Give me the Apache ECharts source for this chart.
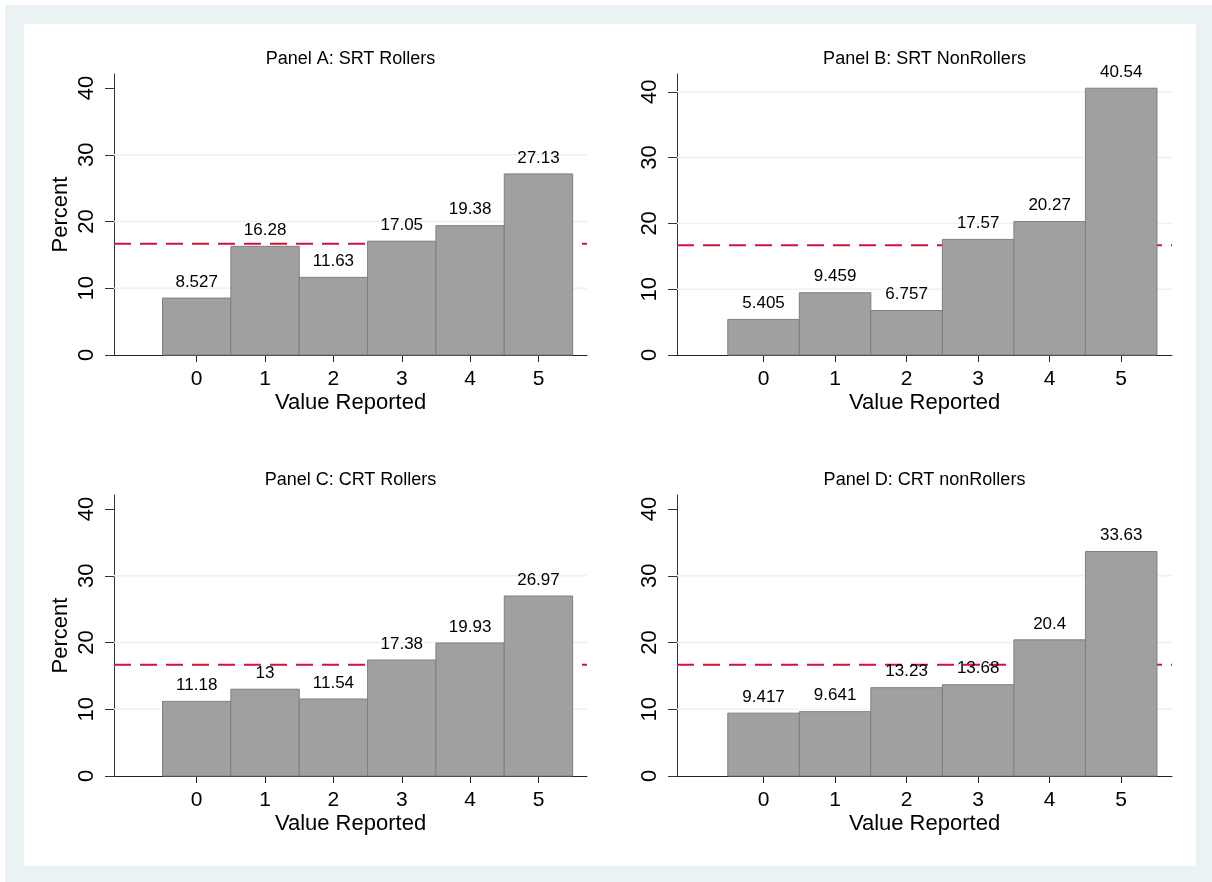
<!DOCTYPE html>
<html>
<head>
<meta charset="utf-8">
<script src="https://cdn.jsdelivr.net/npm/echarts@6/dist/echarts.min.js"></script>
<style>
  html, body { margin: 0; padding: 0; background: #ffffff; }
  #wrap { position: relative; width: 1212px; height: 882px; overflow: hidden; background: #ffffff; }
  #outer { position: absolute; left: 5px; top: 5px; width: 1207px; height: 877px; background: #EAF2F3; }
  #inner { position: absolute; left: 24px; top: 24px; width: 1172px; height: 842px; background: #ffffff; }
  #chart { position: absolute; left: 0; top: 0; width: 1212px; height: 882px; }
</style>
</head>
<body>
<div id="wrap">
  <div id="outer"></div>
  <div id="inner"></div>
  <div id="chart"></div>
</div>
<script>
// ---- data ----
const categories = [0, 1, 2, 3, 4, 5];
const panelTitles = ['Panel A: SRT Rollers', 'Panel B: SRT NonRollers', 'Panel C: CRT Rollers', 'Panel D: CRT nonRollers'];
const valuesA = [8.527, 16.28, 11.63, 17.05, 19.38, 27.13];
const valuesB = [5.405, 9.459, 6.757, 17.57, 20.27, 40.54];
const valuesC = [11.18, 13, 11.54, 17.38, 19.93, 26.97];
const valuesD = [9.417, 9.641, 13.23, 13.68, 20.4, 33.63];
const yTicks = [0, 10, 20, 30, 40];
const gridLinesA = [10, 20, 30];
const gridLinesB = [10, 20, 30, 40];
const gridLinesC = [10, 20, 30];
const gridLinesD = [10, 20, 30];
const referenceLine = [16.67];
const xRange = [-1.21, 5.71];
const yMax = [42.1, 42.7, 42.1, 42.1];

const allValues = [valuesA, valuesB, valuesC, valuesD];
const allGridLines = [gridLinesA, gridLinesB, gridLinesC, gridLinesD];

// ---- layout / style ----
const FONT = '"Liberation Sans", Arial, Helvetica, sans-serif';
const layouts = [
  { left: 114, top: 74, width: 473, height: 281 },
  { left: 677, top: 74, width: 495, height: 281 },
  { left: 114, top: 495, width: 473, height: 281 },
  { left: 677, top: 495, width: 495, height: 281 }
];
const showYName = [true, false, true, false];

const grids = [], xAxes = [], yAxes = [], series = [], graphics = [];

layouts.forEach((L, i) => {
  grids.push({ left: L.left, top: L.top, width: L.width, height: L.height, containLabel: false });
  xAxes.push({
    type: 'value', gridIndex: i, min: xRange[0], max: xRange[1],
    name: 'Value Reported', nameLocation: 'middle', nameGap: 37,
    nameTextStyle: { fontFamily: FONT, fontSize: 22, color: '#000' },
    axisLine: { show: true, onZero: false, lineStyle: { color: '#222', width: 1 } },
    axisTick: { show: true, length: 7, customValues: categories, lineStyle: { color: '#222', width: 1 } },
    axisLabel: { customValues: categories, margin: 14, fontFamily: FONT, fontSize: 21, color: '#000' },
    splitLine: { show: false }
  });
  yAxes.push({
    type: 'value', gridIndex: i, min: 0, max: yMax[i],
    name: showYName[i] ? 'Percent' : '', nameLocation: 'middle', nameGap: 42,
    nameTextStyle: { fontFamily: FONT, fontSize: 22, color: '#000' },
    axisLine: { show: true, onZero: false, lineStyle: { color: '#333', width: 1 } },
    axisTick: { show: true, length: 9, customValues: yTicks, lineStyle: { color: '#333', width: 1 } },
    axisLabel: { customValues: yTicks, rotate: 90, margin: 16, fontFamily: FONT, fontSize: 22, color: '#000' },
    splitLine: { show: false }
  });

  // gridlines (behind everything)
  series.push({
    type: 'custom', xAxisIndex: i, yAxisIndex: i, z: 1, silent: true,
    data: allGridLines[i].map(v => [0, v]),
    encode: { x: 0, y: 1 },
    renderItem: function (params, api) {
      const cs = params.coordSys;
      const yy = api.coord([0, api.value(1)])[1];
      return { type: 'line', shape: { x1: cs.x, y1: yy, x2: cs.x + cs.width, y2: yy },
        style: { stroke: '#EAF2F3', lineWidth: 1.5 } };
    }
  });
  // reference dashed line
  series.push({
    type: 'custom', xAxisIndex: i, yAxisIndex: i, z: 2, silent: true,
    data: referenceLine.map(v => [0, v]),
    encode: { x: 0, y: 1 },
    renderItem: function (params, api) {
      const cs = params.coordSys;
      const yy = api.coord([0, api.value(1)])[1];
      return { type: 'line', shape: { x1: cs.x, y1: yy, x2: cs.x + cs.width, y2: yy },
        style: { stroke: '#D0123F', lineWidth: 2, lineDash: [17, 9] } };
    }
  });
  // bars
  series.push({
    type: 'custom', xAxisIndex: i, yAxisIndex: i, z: 3, silent: true,
    data: categories.map((c, k) => [c, allValues[i][k]]),
    encode: { x: 0, y: 1 },
    renderItem: function (params, api) {
      const x = api.value(0), y = api.value(1);
      const p0 = api.coord([x - 0.5, 0]);
      const p1 = api.coord([x + 0.5, y]);
      return {
        type: 'group',
        children: [
          { type: 'rect', shape: { x: p0[0], y: p1[1], width: p1[0] - p0[0], height: p0[1] - p1[1] },
            style: { fill: '#A0A0A0', stroke: '#7F7F7F', lineWidth: 1 } },
          { type: 'text', x: (p0[0] + p1[0]) / 2, y: p1[1] - 16, z2: 10,
            style: { text: String(y), align: 'center', verticalAlign: 'middle',
              fontFamily: FONT, fontSize: 17, fill: '#000' } }
        ]
      };
    }
  });

  graphics.push({
    type: 'text', x: L.left + L.width / 2, y: L.top - 15,
    style: { text: panelTitles[i], align: 'center', verticalAlign: 'middle',
      fontFamily: FONT, fontSize: 18, fill: '#000' }
  });
});

const chart = echarts.init(document.getElementById('chart'), null, { renderer: 'canvas' });
chart.setOption({
  backgroundColor: 'transparent',
  animation: false,
  grid: grids,
  xAxis: xAxes,
  yAxis: yAxes,
  series: series,
  graphic: graphics
});
</script>
</body>
</html>
